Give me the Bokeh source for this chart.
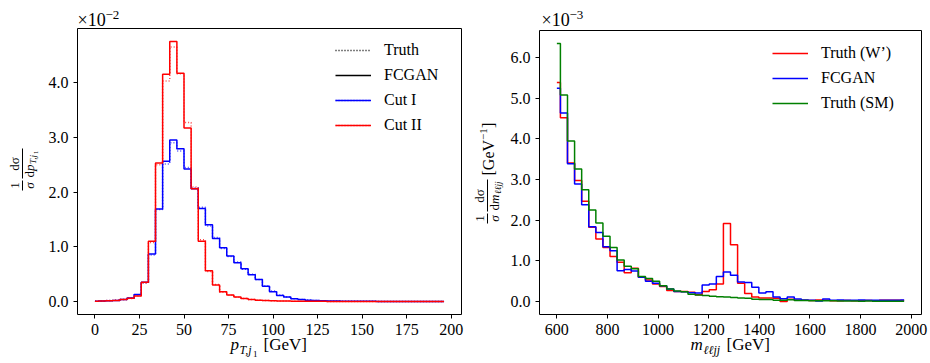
import math
from bokeh.plotting import figure
from bokeh.layouts import row
from bokeh.models import (Range1d, FixedTicker, PrintfTickFormatter, Legend,
                          LegendItem, Label, BoxAnnotation, LinearAxis, Grid)
from bokeh.embed import file_html
from bokeh.resources import INLINE

FONT = "Liberation Serif"
RED = "#ff0000"
BLUE = "#0000ff"
GREEN = "#008000"

# ---------------- left panel data (units of 1e-2) ----------------
pt_centers = list(range(0, 200, 4))
cut1_truth = [0.004, 0.010, 0.016, 0.022, 0.037, 0.060, 0.125, 0.340, 0.850, 1.680,
              2.510, 2.900, 2.750, 2.450, 2.080, 1.720, 1.380, 1.170, 0.970, 0.820,
              0.720, 0.590, 0.500, 0.400, 0.285, 0.190, 0.120, 0.080, 0.052, 0.036,
              0.026, 0.018, 0.013, 0.010, 0.008, 0.006, 0.005, 0.004, 0.003, 0.003,
              0.002, 0.002, 0.002, 0.002, 0.002, 0.001, 0.001, 0.001, 0.001, 0.001]
cut1_fcgan = [0.005, 0.010, 0.015, 0.020, 0.035, 0.065, 0.130, 0.350, 0.870, 1.690,
              2.560, 2.950, 2.790, 2.420, 2.060, 1.700, 1.400, 1.150, 0.980, 0.830,
              0.710, 0.600, 0.490, 0.400, 0.280, 0.180, 0.110, 0.080, 0.050, 0.037,
              0.025, 0.018, 0.013, 0.010, 0.008, 0.006, 0.005, 0.004, 0.003, 0.003,
              0.002, 0.002, 0.002, 0.002, 0.002, 0.001, 0.001, 0.001, 0.001, 0.001]
cut2_truth = [0.004, 0.010, 0.016, 0.022, 0.037, 0.055, 0.105, 0.340, 1.080, 2.500,
              4.030, 4.650, 4.160, 3.270, 2.090, 1.130, 0.550, 0.310, 0.170, 0.115,
              0.078, 0.053, 0.036, 0.026, 0.018, 0.013, 0.010, 0.008, 0.006, 0.005,
              0.004, 0.003, 0.003, 0.002, 0.002, 0.002, 0.001, 0.001, 0.001, 0.001,
              0.001, 0.001, 0.001, 0.001, 0.001, 0.001, 0.001, 0.001, 0.001, 0.001]
cut2_fcgan = [0.005, 0.010, 0.015, 0.020, 0.035, 0.060, 0.100, 0.350, 1.100, 2.530,
              4.150, 4.750, 4.170, 3.170, 2.060, 1.100, 0.560, 0.300, 0.180, 0.120,
              0.080, 0.055, 0.037, 0.025, 0.018, 0.013, 0.010, 0.008, 0.006, 0.005,
              0.004, 0.003, 0.003, 0.002, 0.002, 0.002, 0.002, 0.001, 0.001, 0.001,
              0.001, 0.001, 0.001, 0.001, 0.001, 0.001, 0.001, 0.001, 0.001, 0.001]
pt_xticks = [0, 25, 50, 75, 100, 125, 150, 175, 200]
pt_yticks = [0, 1, 2, 3, 4]

# ---------------- right panel data (units of 1e-3 GeV^-1) ----------------
m_centers = list(range(600, 2000, 28))
wprime_truth = [5.39, 4.52, 3.41, 2.98, 2.47, 1.83, 1.54, 1.33, 1.11, 0.97,
                0.71, 0.82, 0.60, 0.53, 0.43, 0.37, 0.27, 0.25, 0.25, 0.23,
                0.17, 0.25, 0.29, 0.43, 1.92, 1.40, 0.45, 0.20, 0.11, 0.09,
                0.09, 0.08, 0.00, 0.06, 0.03, 0.03, 0.025, 0.04, 0.03, 0.02,
                0.02, 0.025, 0.02, 0.02, 0.025, 0.02, 0.03, 0.03, 0.03, 0.025]
wprime_fcgan = [5.25, 4.64, 3.39, 2.89, 2.38, 1.84, 1.70, 1.35, 1.25, 0.76,
                0.79, 0.75, 0.60, 0.50, 0.45, 0.39, 0.31, 0.25, 0.24, 0.22,
                0.21, 0.41, 0.43, 0.62, 0.73, 0.65, 0.48, 0.47, 0.35, 0.21,
                0.24, 0.115, 0.07, 0.115, 0.065, 0.04, 0.035, 0.015, 0.065, 0.03,
                0.04, 0.035, 0.03, 0.04, 0.03, 0.035, 0.03, 0.03, 0.035, 0.04]
sm_truth = [6.35, 5.08, 3.95, 3.26, 2.75, 2.25, 1.93, 1.61, 1.33, 1.02,
            0.87, 0.81, 0.62, 0.57, 0.50, 0.39, 0.31, 0.26, 0.24, 0.18,
            0.16, 0.15, 0.13, 0.12, 0.11, 0.10, 0.09, 0.08, 0.06, 0.05,
            0.05, 0.03, 0.03, 0.045, 0.025, 0.025, 0.02, 0.02, 0.02, 0.02,
            0.015, 0.015, 0.015, 0.01, 0.015, 0.01, 0.01, 0.01, 0.01, 0.01]
m_xticks = [600, 800, 1000, 1200, 1400, 1600, 1800, 2000]
m_yticks = [0, 1, 2, 3, 4, 5, 6]

H = 363
UP = math.pi / 2
BASE_FIX = 0.34  # Bokeh draws "alphabetic" text this many em lower


def padded(lo, hi, frac=0.05):
    d = (hi - lo) * frac
    return (lo - d, hi + d)


def make_fig(W, L, R, T, B, xin, yin, xt, yt):
    """Figure whose frame fills the canvas; the axes box spans pixels L..R, T..B."""
    x0, x1 = xin
    y0, y1 = yin
    sx = (R - L) / (x1 - x0)
    sy = (B - T) / (y1 - y0)
    p = figure(width=W, height=H,
               x_range=Range1d(x0 - L / sx, x1 + (W - R) / sx),
               y_range=Range1d(y0 - (H - B) / sy, y1 + T / sy),
               x_axis_location=None, y_axis_location=None, min_border=0,
               output_backend="svg", toolbar_location=None)
    p.outline_line_color = None
    p.background_fill_color = "white"
    p.border_fill_color = "white"
    for g in p.select(type=Grid):
        g.visible = False
    p.extra_y_ranges = {"hide": Range1d(start=1000, end=1001)}
    xa = LinearAxis(fixed_location=y0, ticker=FixedTicker(ticks=xt))
    ya = LinearAxis(fixed_location=x0, ticker=FixedTicker(ticks=yt),
                    formatter=PrintfTickFormatter(format="%.1f"))
    for ax in (xa, ya):
        ax.axis_line_color = None
        ax.major_tick_out = 4
        ax.major_tick_in = 0
        ax.minor_tick_out = 0
        ax.minor_tick_in = 0
        ax.major_tick_line_color = "black"
        ax.major_tick_line_width = 1
        ax.major_label_text_font = FONT
        ax.major_label_text_font_size = "16px"
        ax.major_label_text_color = "black"
    xa.major_label_standoff = 5
    ya.major_label_standoff = 5
    p.add_layout(xa, "below")
    p.add_layout(ya, "left")
    p.add_layout(BoxAnnotation(left=x0, right=x1, bottom=y0, top=y1,
                               fill_color=None, fill_alpha=0, line_color="black",
                               line_width=1, line_alpha=1, level="overlay"))
    return p


def txt(p, ox, text, cx, cy, size, style="normal", align="left", angle=0.0):
    fix = BASE_FIX * size
    if angle:
        cx -= fix
    else:
        cy -= fix
    p.add_layout(Label(x=cx - ox, y=H - cy, x_units="screen", y_units="screen",
                       text=text, text_font=FONT, text_font_size=f"{size}px",
                       text_font_style=style, text_align=align,
                       text_baseline="alphabetic", angle=angle, text_color="black"))


def vbar_line(p, ox, x, y0, y1):
    p.add_layout(BoxAnnotation(left=x - 0.5 - ox, right=x + 0.5 - ox,
                               bottom=H - y1, top=H - y0,
                               left_units="screen", right_units="screen",
                               bottom_units="screen", top_units="screen",
                               fill_color="black", fill_alpha=1.0,
                               line_color=None, level="overlay"))


def style_legend(lg):
    lg.label_text_font = FONT
    lg.label_text_font_size = "16px"
    lg.label_text_color = "black"
    lg.glyph_width = 36
    lg.glyph_height = 20
    lg.label_height = 20
    lg.label_standoff = 13
    lg.spacing = 5
    lg.padding = 0
    lg.margin = 0
    lg.border_line_color = None
    lg.background_fill_alpha = 0


# ================= left figure (canvas x 0..465) =================
O1 = 0
p1 = make_fig(465, 77, 461, 28, 314, padded(min(pt_centers), max(pt_centers)),
              padded(0, max(cut2_fcgan)), pt_xticks, pt_yticks)

DOT = "1 2"
r_c1t = p1.step(pt_centers, cut1_truth, mode="center", line_color=BLUE,
                line_width=1.5, line_dash=DOT, line_alpha=0.7)
r_c2t = p1.step(pt_centers, cut2_truth, mode="center", line_color=RED,
                line_width=1.5, line_dash=DOT, line_alpha=0.7)
r_c1f = p1.step(pt_centers, cut1_fcgan, mode="center", line_color=BLUE, line_width=1.5)
r_c2f = p1.step(pt_centers, cut2_fcgan, mode="center", line_color=RED, line_width=1.5)
# legend-only renderers (mapped to an off-canvas range)
leg_truth = p1.line(pt_centers, cut2_truth, y_range_name="hide", line_color="black",
                    line_width=1.5, line_dash=DOT)
leg_fc = p1.line(pt_centers, cut2_fcgan, y_range_name="hide", line_color="black",
                 line_width=1.5)

lg1 = Legend(items=[LegendItem(label="Truth", renderers=[leg_truth]),
                    LegendItem(label="FCGAN", renderers=[leg_fc]),
                    LegendItem(label="Cut I", renderers=[r_c1t, r_c1f]),
                    LegendItem(label="Cut II", renderers=[r_c2t, r_c2f])],
             location=(335 - O1, H - 135))
style_legend(lg1)
p1.add_layout(lg1)

txt(p1, O1, "×10", 77, 26, 18)
txt(p1, O1, "−2", 105, 19, 13)
txt(p1, O1, "p", 230, 350, 17, "italic")
txt(p1, O1, "T,j", 239, 354, 12, "italic")
txt(p1, O1, "1", 252.5, 357, 9)
txt(p1, O1, "[GeV]", 263, 350, 17)
sh = -6
txt(p1, O1, "1", 18.5, 191 + sh, 13, align="center", angle=UP)
txt(p1, O1, "σ", 33, 191 + sh, 13, "italic", align="center", angle=UP)
vbar_line(p1, O1, 22, 186 + sh, 196 + sh)
txt(p1, O1, "dσ", 18.5, 169.5 + sh, 13, align="center", angle=UP)
vbar_line(p1, O1, 22, 154 + sh, 184 + sh)
txt(p1, O1, "d", 33, 183 + sh, 13, angle=UP)
txt(p1, O1, "p", 33, 176.5 + sh, 13, "italic", angle=UP)
txt(p1, O1, "T,j", 36, 169.5 + sh, 9, "italic", angle=UP)
txt(p1, O1, "1", 38, 159.5 + sh, 6.5, angle=UP)

# ================= right figure (canvas x 465..930) =================
O2 = 465
p2 = make_fig(465, 539 - O2, 921 - O2, 30, 314, padded(min(m_centers), max(m_centers)),
              padded(0, max(sm_truth)), m_xticks, m_yticks)
r_w = p2.step(m_centers, wprime_truth, mode="center", line_color=RED, line_width=1.5)
r_f = p2.step(m_centers, wprime_fcgan, mode="center", line_color=BLUE, line_width=1.5)
r_s = p2.step(m_centers, sm_truth, mode="center", line_color=GREEN, line_width=1.5)
lg2 = Legend(items=[LegendItem(label="Truth (W’)", renderers=[r_w]),
                    LegendItem(label="FCGAN", renderers=[r_f]),
                    LegendItem(label="Truth (SM)", renderers=[r_s])],
             location=(772 - O2, H - 113))
style_legend(lg2)
p2.add_layout(lg2)

txt(p2, O2, "×10", 541, 26, 18)
txt(p2, O2, "−3", 569, 19, 13)
txt(p2, O2, "m", 690, 350, 17, "italic")
txt(p2, O2, "ℓℓjj", 703, 354, 12, "italic")
txt(p2, O2, "[GeV]", 726, 350, 17)
sh2 = -9
txt(p2, O2, "1", 483.5, 227 + sh2, 13, align="center", angle=UP)
txt(p2, O2, "σ", 498, 227 + sh2, 13, "italic", align="center", angle=UP)
vbar_line(p2, O2, 487, 222 + sh2, 232 + sh2)
txt(p2, O2, "dσ", 483.5, 204.5 + sh2, 13, align="center", angle=UP)
vbar_line(p2, O2, 487, 188 + sh2, 220 + sh2)
txt(p2, O2, "d", 498, 219 + sh2, 13, angle=UP)
txt(p2, O2, "m", 498, 212.5 + sh2, 13, "italic", angle=UP)
txt(p2, O2, "ℓℓjj", 501, 202.5 + sh2, 9, "italic", angle=UP)
txt(p2, O2, "[GeV", 493, 184 + sh2, 16, angle=UP)
txt(p2, O2, "−1", 487, 148.5 + sh2, 11, angle=UP)
txt(p2, O2, "]", 493, 136.5 + sh2, 16, angle=UP)

layout = row(p1, p2)
open("out.html", "w").write(file_html(layout, INLINE))
